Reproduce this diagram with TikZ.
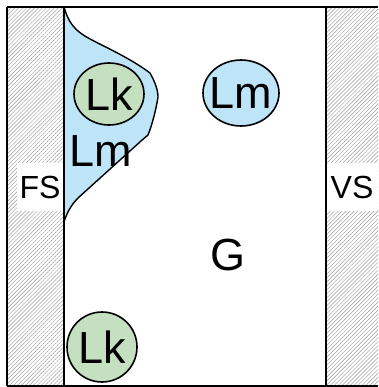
\documentclass[tikz,border=0pt]{standalone}
\usepackage{fontspec}
\setmainfont{Liberation Sans}
\usetikzlibrary{shapes.geometric,patterns.meta}
\definecolor{lightblue}{RGB}{190,228,248}
\definecolor{lightgreen}{RGB}{196,224,192}
\newcommand{\nowidth}[1]{\makebox[0pt][c]{#1}}
\tikzset{
  wall/.style={pattern={Lines[angle=45,distance=2.8pt,line width=0.45pt]},pattern color=gray!80},
  border/.style={line width=2pt},
  blob/.style={ellipse,draw,line width=1.6pt,inner sep=0pt,font=\fontsize{45}{45}\selectfont},
  kblob/.style={blob,fill=lightgreen},
  mblob/.style={blob,fill=lightblue},
  walllabel/.style={fill=white,inner xsep=1pt,inner ysep=0pt,minimum height=48pt,font=\fontsize{32}{32}\selectfont},
  biglabel/.style={inner sep=0pt,font=\fontsize{45}{45}\selectfont}
}
\begin{document}
\begin{tikzpicture}[x=1pt,y=-1pt]
  \useasboundingbox (0,0) rectangle (378,387);
  % hatched walls
  \fill[wall] (7,7) rectangle (64,386);
  \fill[wall] (326,7) rectangle (378,386);
  % wall labels
  \node[walllabel,minimum width=46pt] (FS) at (40,187) {FS};
  \node[walllabel,minimum width=52pt] (VS) at (352,187) {VS};
  % blue region along the left wall
  \draw[line width=1.4pt,fill=lightblue,line join=round]
    (64,7) .. controls (68,20) and (72,30) .. (92,40)
    .. controls (105,47) and (130,58) .. (150,73)
    .. controls (155,82) and (158,90) .. (158,97)
    .. controls (156,110) and (152,125) .. (148,135)
    -- (141,141) -- (78,198)
    .. controls (72,204) and (67,212) .. (64,222);
  % box outline
  \draw[border] (7,7) -- (7,386);
  \draw[border] (64,7) -- (64,386);
  \draw[border] (326,7) -- (326,386);
  \draw[border] (7,7) -- (378,7);
  \draw[border] (7,386) -- (378,386);
  % circles
  \node[kblob,minimum width=70pt,minimum height=62pt] (Lk1) at (109,94) {\nowidth{Lk}};
  \node[mblob,minimum width=76pt,minimum height=66pt] (Lm2) at (241,93) {\nowidth{Lm}};
  \node[kblob,minimum width=70pt,minimum height=70pt] (Lk3) at (102,347) {\nowidth{Lk}};
  % free labels
  \node[biglabel] (Lm1) at (101,151) {Lm};
  \node[biglabel] (G) at (228,255) {G};
\end{tikzpicture}
\end{document}
